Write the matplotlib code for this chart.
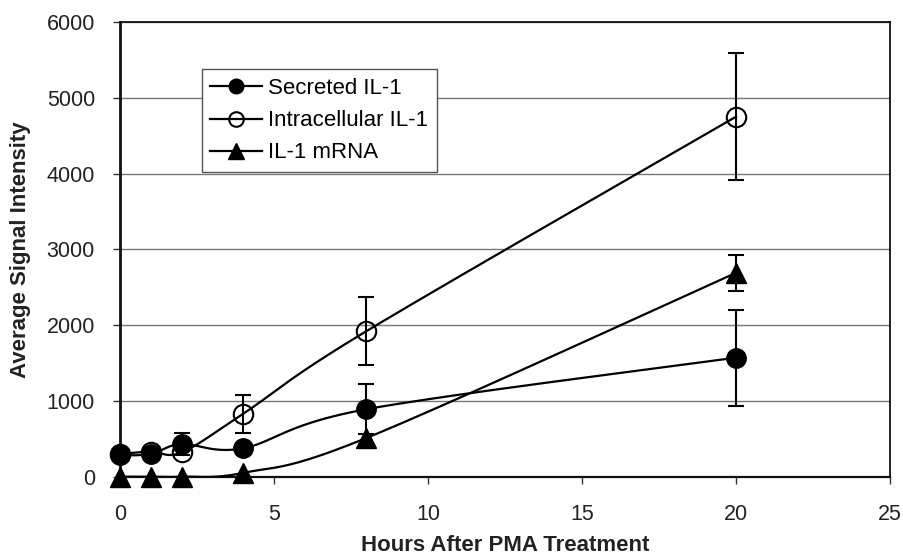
import numpy as np
import matplotlib
matplotlib.use("Agg")
import matplotlib.pyplot as plt
from matplotlib.lines import Line2D

# data
hours = [0, 1, 2, 4, 8, 20]
secreted = [280, 300, 430, 375, 890, 1570]
secreted_err = [0, 0, 140, 0, 330, 635]
intracellular = [300, 330, 320, 830, 1920, 4750]
intracellular_err = [0, 0, 0, 250, 450, 835]
mrna = [0, 0, 0, 50, 510, 2690]
mrna_err = [0, 0, 0, 0, 0, 235]
series_names = ["Secreted IL-1", "Intracellular IL-1", "IL-1 mRNA"]

plt.rcParams['font.family'] = ['Liberation Sans', 'DejaVu Sans']


def smooth(ax, xs, ys, n=40):
    # Excel style smoothed line: cubic bezier through points, done in screen space
    pts = ax.transData.transform(np.column_stack([xs, ys]))
    out = []
    t = np.linspace(0, 1, n)[:, None]
    for i in range(len(pts) - 1):
        p0 = pts[max(i - 1, 0)]
        p1 = pts[i]
        p2 = pts[i + 1]
        p3 = pts[min(i + 2, len(pts) - 1)]
        c1 = p1 + (p2 - p0) / 6.0
        c2 = p2 - (p3 - p1) / 6.0
        seg = (1 - t)**3 * p1 + 3 * (1 - t)**2 * t * c1 + 3 * (1 - t) * t**2 * c2 + t**3 * p2
        out.append(seg if i == 0 else seg[1:])
    out = np.vstack(out)
    back = ax.transData.inverted().transform(out)
    return back[:, 0], back[:, 1]


fig = plt.figure(figsize=(9.04, 5.6), dpi=100)
ax = fig.add_axes([0.1327, 0.1488, 0.8518, 0.8119])
ax.set_xlim(0, 25)
ax.set_ylim(0, 6000)
ax.set_xticks(range(0, 26, 5))
ax.set_yticks(range(0, 6001, 1000))
ax.yaxis.grid(True, color='#777777', lw=1.0)
ax.set_axisbelow(True)

ax.spines['left'].set_linewidth(2.0)
ax.spines['bottom'].set_linewidth(1.6)
ax.spines['top'].set_linewidth(1.3)
ax.spines['right'].set_linewidth(1.3)
for s in ax.spines.values():
    s.set_color('#111111')
ax.tick_params(axis='both', direction='out', length=5, width=1, colors='#333333',
               labelcolor='#222222', labelsize=15.5)
ax.tick_params(axis='x', pad=15)
ax.tick_params(axis='y', pad=13)

xs = np.array(hours, dtype=float)
all_series = [
    (secreted, secreted_err, dict(marker='o', markerfacecolor='black', markeredgecolor='black', markersize=14)),
    (intracellular, intracellular_err, dict(marker='o', markerfacecolor='none', markeredgecolor='black',
                                            markeredgewidth=1.5, markersize=14)),
    (mrna, mrna_err, dict(marker='^', markerfacecolor='black', markeredgecolor='black', markersize=14.5)),
]

handles = []
for (vals, errs, mk), name in zip(all_series, series_names):
    vals = np.array(vals, dtype=float)
    errs = np.array(errs, dtype=float)
    sx, sy = smooth(ax, xs, vals)
    ax.plot(sx, sy, color='black', lw=1.6, zorder=3)
    m = errs > 0
    ax.errorbar(xs[m], vals[m], yerr=errs[m], fmt='none', ecolor='black',
                elinewidth=1.5, capsize=5.5, capthick=1.5, zorder=3)
    ax.plot(xs, vals, linestyle='none', zorder=4, clip_on=False, **mk)
    small = dict(mk)
    small['markersize'] = mk['markersize'] * 0.75
    handles.append(Line2D([], [], color='black', lw=1.6, **small))

leg = ax.legend(handles, series_names, loc='upper left', bbox_to_anchor=(0.106, 0.896),
                borderaxespad=0, fontsize=16, frameon=True, fancybox=False,
                framealpha=1, edgecolor='#555555', handlelength=2.3,
                handletextpad=0.3, labelspacing=0.5, borderpad=0.4)
leg.get_frame().set_linewidth(1.0)

ax.set_xlabel('Hours After PMA Treatment', fontsize=16, fontweight='bold', color='#222222')
ax.set_ylabel('Average Signal Intensity', fontsize=16, fontweight='bold', color='#222222')
ax.xaxis.set_label_coords(0.5, -0.128)
ax.yaxis.set_label_coords(-0.1156, 0.5)

fig.savefig('out.png', dpi=100)
